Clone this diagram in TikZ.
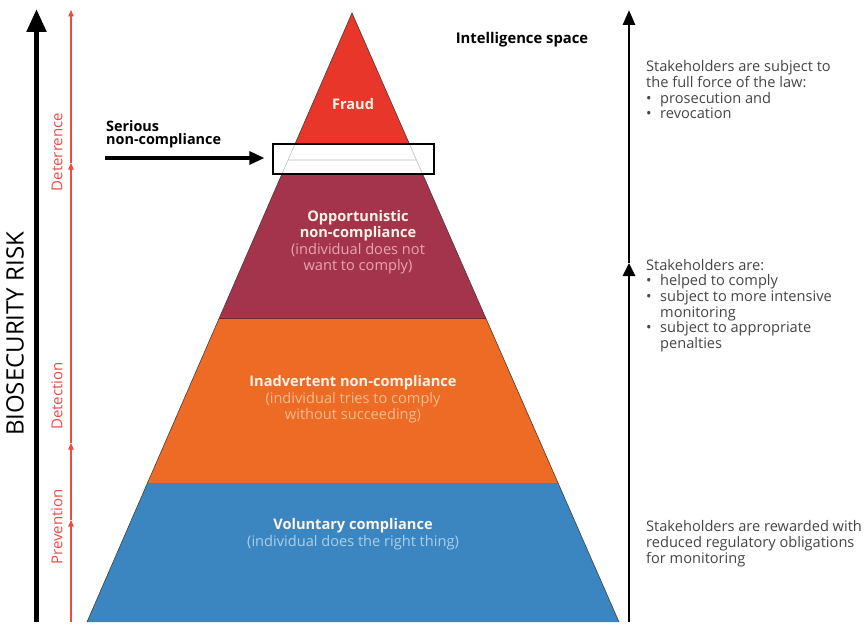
\documentclass[tikz,border=0pt]{standalone}
\usepackage{fontspec}
\setmainfont{Open Sans}
\usetikzlibrary{calc,arrows.meta}
\definecolor{fraudred}{HTML}{E8362B}
\definecolor{maroon}{HTML}{A3344B}
\definecolor{orng}{HTML}{EE6B25}
\definecolor{blu}{HTML}{3B86C0}
\definecolor{riskred}{HTML}{F04A45}
\definecolor{gtext}{HTML}{454545}
\definecolor{pinklt}{HTML}{EBA4B2}
\definecolor{peachlt}{HTML}{F9BC90}
\definecolor{bluelt}{HTML}{A9D0EC}
\definecolor{cream}{HTML}{FFF4E6}
\newcommand{\bul}{\makebox[14pt][l]{\textbullet}}
\tikzset{
  title/.style={font=\fontsize{14.6}{16.5}\selectfont\bfseries, text=cream, align=center, inner sep=0pt},
  sub/.style={font=\fontsize{14.6}{15.6}\selectfont, align=center, inner sep=0pt},
  side/.style={font=\fontsize{14.6}{15.6}\selectfont, text=gtext, align=left, anchor=north west, inner sep=0pt},
  redlab/.style={font=\fontsize{15}{16}\selectfont, text=riskred, rotate=90, inner sep=0pt},
  edge/.style={draw=black!75, line width=0.6pt},
  faint/.style={draw=black!25, line width=0.6pt},
}
\begin{document}
\begin{tikzpicture}[x=1pt,y=-1pt]
\useasboundingbox (0,0) rectangle (866,634);
\fill[white] (0,0) rectangle (866,634);
% pyramid geometry
\coordinate (A) at (352,13);
\coordinate (BL) at (87,622);
\coordinate (BR) at (619,622);
\coordinate (L1) at ($(A)!0.2151!(BL)$); \coordinate (R1) at ($(A)!0.2151!(BR)$);
\coordinate (L2) at ($(A)!0.2644!(BL)$); \coordinate (R2) at ($(A)!0.2644!(BR)$);
\coordinate (L3) at ($(A)!0.5008!(BL)$); \coordinate (R3) at ($(A)!0.5008!(BR)$);
\coordinate (L4) at ($(A)!0.7718!(BL)$); \coordinate (R4) at ($(A)!0.7718!(BR)$);
\coordinate (LM) at ($(A)!0.2414!(BL)$); \coordinate (RM) at ($(A)!0.2414!(BR)$);
\fill[fraudred] (A) -- (R1) -- (L1) -- cycle;
\fill[maroon] (L2) -- (R2) -- (R3) -- (L3) -- cycle;
\fill[orng] (L3) -- (R3) -- (R4) -- (L4) -- cycle;
\fill[blu] (L4) -- (R4) -- (BR) -- (BL) -- cycle;
\draw[edge] (L1) -- (A) -- (R1);
\draw[edge] (L2) -- (BL);
\draw[edge] (R2) -- (BR);
\draw[draw=maroon!70!black, line width=0.8pt] (L3) -- (R3);
\draw[faint] (L1) -- (L2) (R1) -- (R2) (LM) -- (RM);
% serious non-compliance box
\node[draw=black, line width=1.3pt, minimum width=161pt, minimum height=30pt, inner sep=0pt] (box) at (353.5,159) {};
\node[font=\fontsize{14.4}{13}\selectfont\bfseries, align=left, anchor=north west, inner sep=0pt] (serious) at (106,120) {Serious\\non-compliance};
\coordinate (arrstart) at (105,158);
\draw[line width=3.2pt, -{Triangle[width=13pt,length=15pt]}, shorten >=8pt] (arrstart) -- (box.west |- arrstart);
% pyramid texts
\node[title] (fraud) at (353,104) {Fraud};
\node[title] (opp) at (358,225.5) {Opportunistic\\non-compliance};
\node[sub, text=pinklt] (oppsub) at (358,259) {(individual does not\\want to comply)};
\node[title] (inad) at (353,383) {Inadvertent non-compliance};
\node[sub, text=peachlt] (inadsub) at (353,407.5) {(individual tries to comply\\without succeeding)};
\node[title] (vol) at (353,526) {Voluntary compliance};
\node[sub, text=bluelt] (volsub) at (353,543) {(individual does the right thing)};
\node[font=\fontsize{14.8}{16}\selectfont\bfseries, inner sep=0pt] (intel) at (522,40) {Intelligence space};
% left axis
\coordinate (lbot) at (36.5,622);
\coordinate (ltop) at (36.5,9);
\draw[line width=5.2pt, -{Triangle[width=19pt,length=23pt]}] (lbot) -- (ltop);
\node[font=\fontsize{24}{26}\selectfont, rotate=90, inner sep=0pt] (risk) at (15,334) {BIOSECURITY RISK};
\coordinate (r0) at (71,622);
\coordinate (r1) at (71,520);
\coordinate (r2) at (71,443);
\coordinate (r3) at (71,163);
\coordinate (r4) at (71,10);
\tikzset{redarr/.style={draw=riskred, line width=1.2pt, -{Triangle[width=5.5pt,length=6.5pt]}}}
\draw[redarr] (r0) -- (r1);
\draw[redarr] (r1) -- (r2);
\draw[redarr] (r2) -- (r3);
\draw[redarr] (r3) -- (r4);
\node[redlab] (deter) at (57,152) {Deterrence};
\node[redlab] (detect) at (57,396) {Detection};
\node[redlab] (prev) at (57,527) {Prevention};
% right axis
\coordinate (rbot) at (629,622);
\coordinate (rmid) at (629,263);
\coordinate (rtop) at (629,10);
\draw[line width=2.8pt, -{Triangle[width=12pt,length=13pt]}] (rbot) -- (rmid);
\draw[line width=2.8pt, -{Triangle[width=12pt,length=15pt]}] (rmid) -- (rtop);
\node[side] (s1) at (646,60.6) {Stakeholders are subject to\\the full force of the law:\\\bul prosecution and\\\bul revocation};
\node[side] (s2) at (646,259) {Stakeholders are:\\\bul helped to comply\\\bul subject to more intensive\\\hspace*{14pt}monitoring\\\bul subject to appropriate\\\hspace*{14pt}penalties};
\node[side] (s3) at (646,520.6) {Stakeholders are rewarded with\\reduced regulatory obligations\\for monitoring};
\end{tikzpicture}
\end{document}
